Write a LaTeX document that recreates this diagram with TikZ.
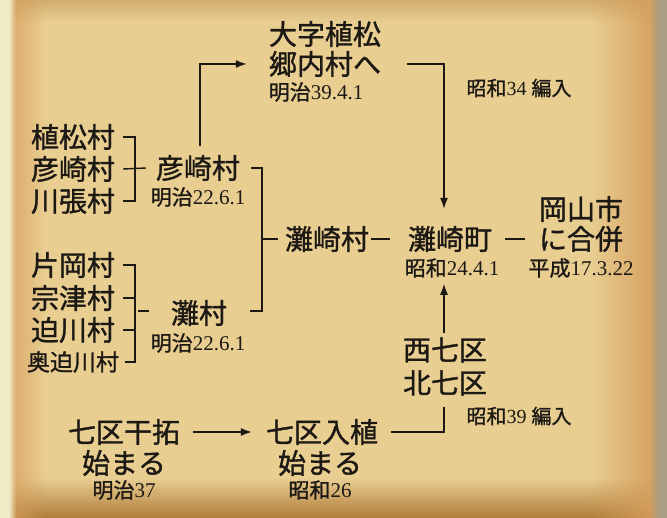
\documentclass[tikz,border=0pt]{standalone}
\usepackage{fontspec}
\setmainfont{Liberation Serif}
\newfontfamily\jp[FakeBold=1.2]{Noto Sans CJK JP}
\usetikzlibrary{arrows.meta,fadings}
\definecolor{bgin}{RGB}{233,206,146}
\definecolor{bgout}{RGB}{214,172,104}
\definecolor{cream}{RGB}{240,234,198}
\definecolor{edgeor}{RGB}{212,158,92}
\definecolor{edgedk}{RGB}{176,124,58}
\definecolor{edgegr}{RGB}{170,158,130}
\definecolor{ink}{RGB}{28,24,20}
\tikzfading[name=fadeR, left color=transparent!0, right color=transparent!100]
\tikzfading[name=fadeL, left color=transparent!100, right color=transparent!0]
\tikzfading[name=fadeU, top color=transparent!100, bottom color=transparent!0]
\tikzfading[name=fadeD, top color=transparent!0, bottom color=transparent!100]
\tikzset{
  big/.style={font=\jp\fontsize{28}{30}\selectfont, inner sep=0pt, text=ink},
  mid/.style={font=\jp\fontsize{23}{26}\selectfont, inner sep=0pt, text=ink},
  datelbl/.style={font=\fontsize{21}{24}\selectfont, inner sep=0pt, text=ink},
  notelbl/.style={font=\fontsize{20}{22}\selectfont, inner sep=0pt, text=ink},
  ln/.style={draw=ink, line width=1.4pt},
  arr/.style={ln, -{Latex[length=11pt,width=8pt]}},
}
\begin{document}
\begin{tikzpicture}[x=1pt,y=-1pt]
\useasboundingbox (0,0) rectangle (667,518);
% parchment
\fill[bgin] (0,0) rectangle (667,518);
\fill[edgedk, path fading=fadeU] (0,478) rectangle (667,518);
\fill[edgedk, opacity=0.4, path fading=fadeD] (0,0) rectangle (667,22);
\fill[edgeor, path fading=fadeR] (0,0) rectangle (45,518);
\fill[cream] (0,0) rectangle (9,518);
\fill[cream, path fading=fadeR] (9,0) rectangle (16,518);
\fill[edgeor, path fading=fadeL] (590,0) rectangle (658,518);
\fill[edgegr] (658,0) rectangle (667,518);
\fill[edgegr, path fading=fadeL] (650,0) rectangle (658,518);

% nodes
\node[big] (ooA) at (325,34) {大字植松};
\node[big] (ooB) at (325,64) {郷内村へ};
\node[datelbl] (d39) at (316,92) {{\jp 明治}39.4.1};
\node[notelbl] (s34) at (519,88) {{\jp 昭和}34 {\jp 編入}};

\node[big] (uema) at (73,137) {植松村};
\node[big] (hiko1) at (73,169) {彦崎村};
\node[big] (kawa) at (73,201) {川張村};
\node[big] (hiko2) at (198,168) {彦崎村};
\node[datelbl] (dh) at (198,197) {{\jp 明治}22.6.1};

\node[big] (nadaS) at (327,239) {灘崎村};
\node[big] (nadaM) at (450,239) {灘崎町};
\node[datelbl] (d24) at (452,268) {{\jp 昭和}24.4.1};
\node[big] (okaA) at (581,209) {岡山市};
\node[big] (okaB) at (581,239) {に合併};
\node[datelbl] (d17) at (581,268) {{\jp 平成}17.3.22};

\node[big] (kata) at (73,265) {片岡村};
\node[big] (mune) at (73,298) {宗津村};
\node[big] (saka) at (73,330) {迫川村};
\node[mid] (oku) at (73,362) {奥迫川村};
\node[big] (nada) at (199,313) {灘村};
\node[datelbl] (dn) at (198,343) {{\jp 明治}22.6.1};

\node[big] (nishi) at (445,350) {西七区};
\node[big] (kita) at (445,383) {北七区};
\node[notelbl] (s39) at (519,416) {{\jp 昭和}39 {\jp 編入}};

\node[big] (kan) at (124,432) {七区干拓};
\node[big] (haj1) at (124,463) {始まる};
\node[datelbl] (m37) at (124,490) {{\jp 明治}37};
\node[big] (nyu) at (322,432) {七区入植};
\node[big] (haj2) at (320,463) {始まる};
\node[datelbl] (s26) at (320,490) {{\jp 昭和}26};

% junctions
\coordinate (j1) at (135,169);
\coordinate (j2) at (262,239);
\coordinate (j3) at (135,311);

% bracket 1
\draw[ln] ([xshift=8pt]uema.east) -| (j1) |- ([xshift=8pt]kawa.east);
\draw[ln] ([xshift=8pt]hiko1.east) -- ([xshift=-10pt]hiko2.west);
% bracket 2
\draw[ln] ([xshift=8pt]kata.east) -| (j3) |- ([xshift=6pt]oku.east);
\draw[ln] ([xshift=8pt]mune.east) -- (mune.east -| j3);
\draw[ln] ([xshift=8pt]saka.east) -- (saka.east -| j3);
\draw[ln] ([xshift=3pt]j3) -- ([xshift=14pt]j3);
% bracket to nadaS
\draw[ln] ([xshift=11pt]hiko2.east) -| (j2);
\draw[ln] ([xshift=23pt]nada.east |- j3) -| (j2);
\draw[ln] (j2) -- ([xshift=-7pt]nadaS.west);
% dashes
\draw[ln, shorten <=2pt, shorten >=18pt] (nadaS.east) -- (nadaM.west);
\draw[ln, shorten <=13pt, shorten >=14pt] (nadaM.east) -- (okaB.west);
% arrows
\draw[arr] ([shift={(2pt,9pt)}]hiko2.north) |- ([xshift=-22pt]ooB.west);
\draw[arr] ([xshift=26pt]ooB.east) -| ([shift={(-6pt,17pt)}]nadaM.north);
\draw[arr] ([shift={(-1pt,4pt)}]nishi.north) -- ([shift={(-1pt,-6pt)}]nishi.north |- d24.south);
\draw[ln] ([xshift=13pt]nyu.east) -| ([shift={(-1pt,-11pt)}]kita.south);
\draw[arr] ([xshift=13pt]kan.east) -- ([xshift=-14pt]nyu.west);
\end{tikzpicture}
\end{document}
